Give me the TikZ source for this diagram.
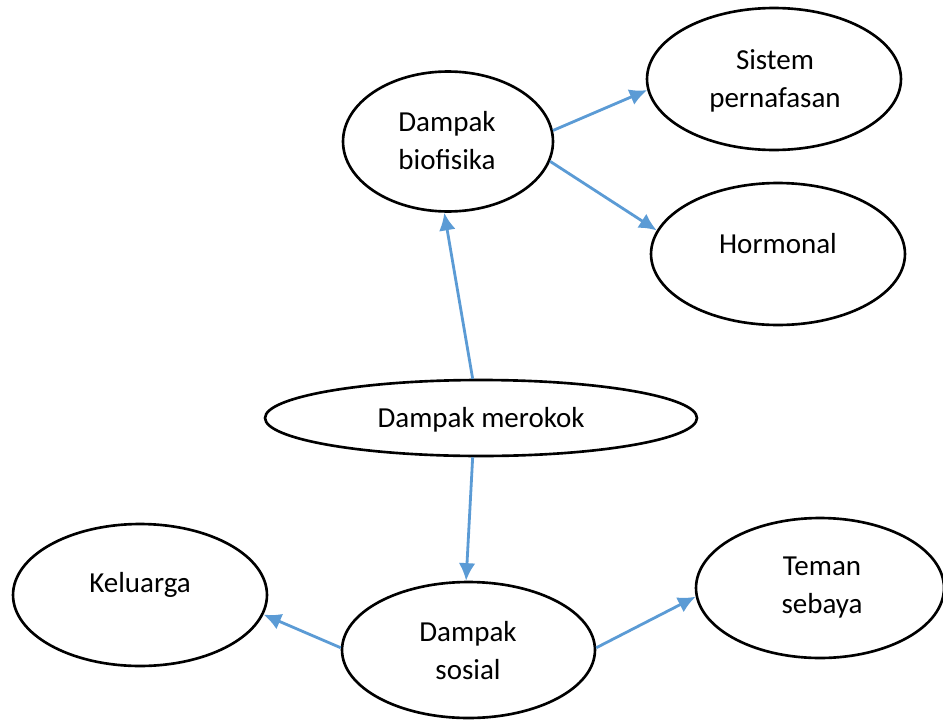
\documentclass[tikz,border=0pt]{standalone}
\usepackage{fontspec}
\setmainfont{Carlito}
\usetikzlibrary{arrows.meta,shapes.geometric}
\definecolor{arrowblue}{RGB}{91,155,213}
\tikzstyle{bubble}=[draw, ellipse, line width=1.5pt, inner sep=0pt]
\tikzstyle{txt}=[align=center, font=\fontsize{16.5}{21.6}\selectfont]
\tikzstyle{link}=[-{Latex[length=10pt,width=9.5pt]}, draw=arrowblue, fill=arrowblue, line width=1.6pt]

\begin{document}
\begin{tikzpicture}[x=0.02cm,y=-0.02cm]
		    \useasboundingbox (0,0) rectangle (943,720);
		    % ellipses
		    \node [bubble, minimum width=8.64cm, minimum height=1.52cm] (m) at (481,418) {};
		    \node [bubble, minimum width=4.2cm, minimum height=2.8cm] (b) at (448,141.5) {};
		    \node [bubble, minimum width=5.08cm, minimum height=2.84cm] (s) at (774,79) {};
		    \node [bubble, minimum width=5.08cm, minimum height=2.84cm] (h) at (778,254) {};
		    \node [bubble, minimum width=5.08cm, minimum height=2.84cm] (k) at (140,595) {};
		    \node [bubble, minimum width=5.06cm, minimum height=2.72cm] (so) at (468.5,650) {};
		    \node [bubble, minimum width=4.96cm, minimum height=2.8cm] (t) at (820,588) {};
		    % texts
		    \node [txt] (mt) at (481,420) {Dampak merokok};
		    \node [txt] (bt) at (447,141) {Dampak\\biofisika};
		    \node [txt] (st) at (775,81) {Sistem\\pernafasan};
		    \node [txt] (ht) at (778,244) {Hormonal};
		    \node [txt] (kt) at (140,585) {Keluarga};
		    \node [txt] (sot) at (468,651) {Dampak\\sosial};
		    \node [txt] (tt) at (822,588) {Teman\\sebaya};
		    % arrows
		    \draw [link] (m.102) -- (b.267);
		    \draw [link] (m.258) -- (so.92.5);
		    \draw [link] (b.6.3) -- (s.185);
		    \draw [link] (b.349) -- (h.169.4);
		    \draw [link] (so.179) -- (k.351);
		    \draw [link] (so.1) -- (t.184);
		\end{tikzpicture}
\end{document}
